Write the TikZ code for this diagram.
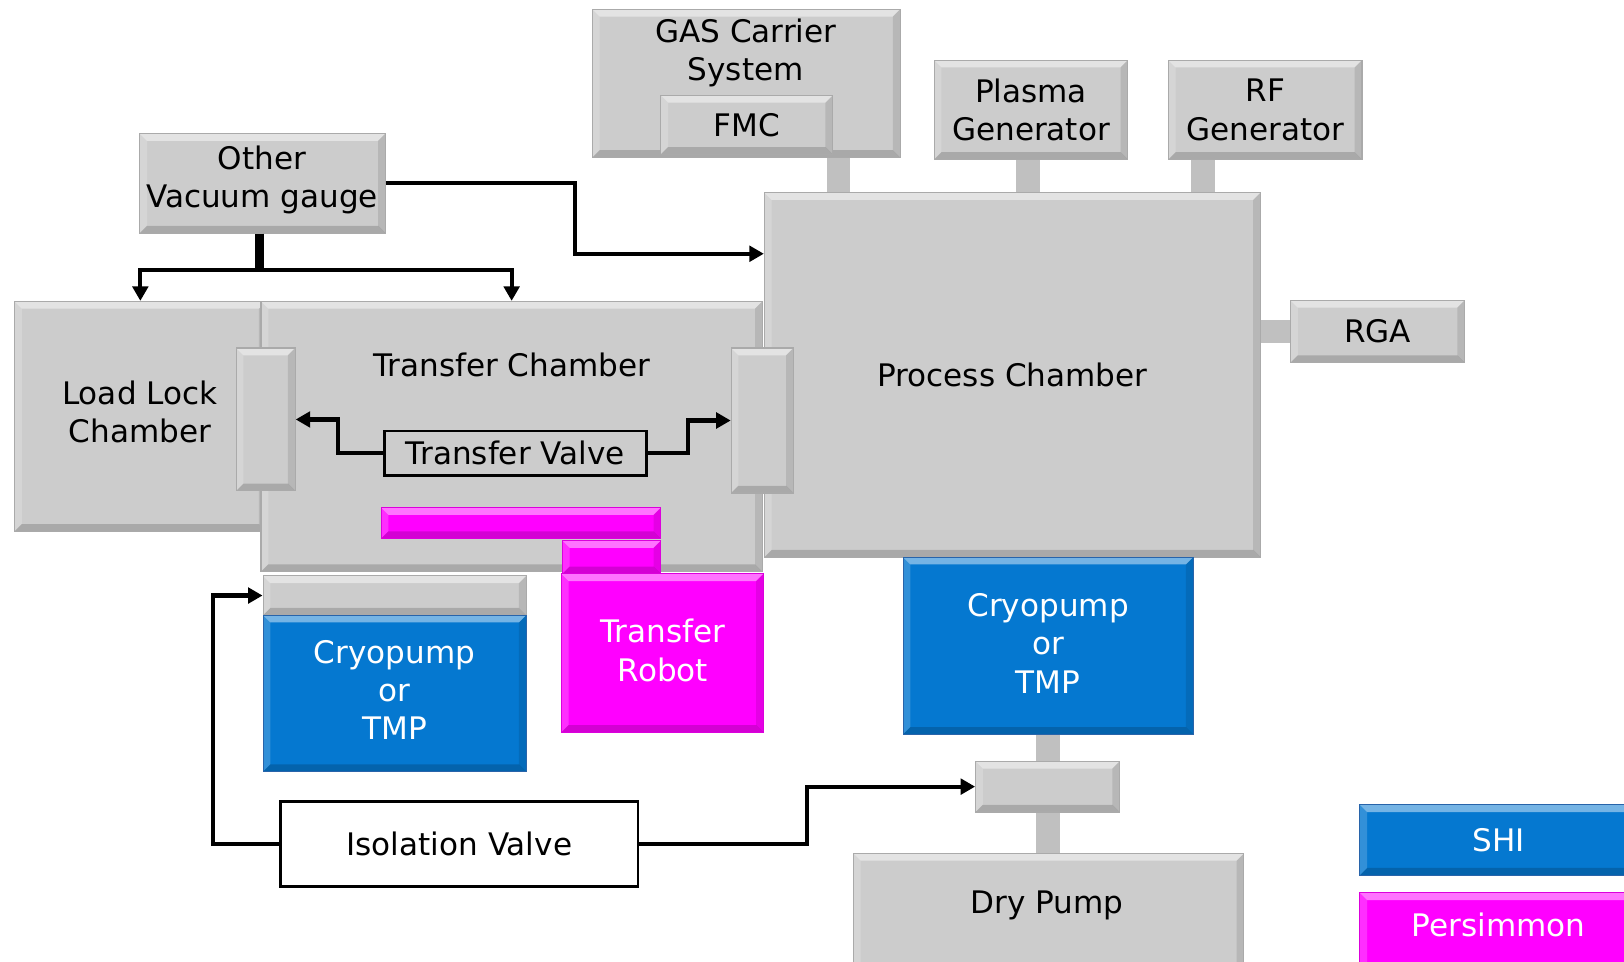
\documentclass[tikz,border=0pt]{standalone}
\usepackage{fontspec}
\setmainfont{DejaVu Sans}
\usetikzlibrary{arrows.meta}
\definecolor{boxgray}{RGB}{204,204,204}
\definecolor{stubgray}{RGB}{192,192,192}
\definecolor{edgegray}{RGB}{170,170,170}
\definecolor{shiblue}{RGB}{5,120,208}
\definecolor{blueedge}{RGB}{40,100,170}
\definecolor{persim}{RGB}{255,0,255}
\definecolor{persimedge}{RGB}{220,0,220}
\tikzset{
  bev/.style={path picture={
    \path (path picture bounding box.south west) coordinate (bvsw)
          (path picture bounding box.north east) coordinate (bvne);
    \fill[white,opacity=.45] (bvsw|-bvne) -- (bvne) -- ([shift={(-7pt,-7pt)}]bvne) -- ([shift={(7pt,-7pt)}]bvsw|-bvne) -- cycle;
    \fill[white,opacity=.18] (bvsw|-bvne) -- ([shift={(7pt,-7pt)}]bvsw|-bvne) -- ([shift={(7pt,7pt)}]bvsw) -- (bvsw) -- cycle;
    \fill[black,opacity=.17] (bvsw) -- (bvne|-bvsw) -- ([shift={(-7pt,7pt)}]bvne|-bvsw) -- ([shift={(7pt,7pt)}]bvsw) -- cycle;
    \fill[black,opacity=.1] (bvne) -- (bvne|-bvsw) -- ([shift={(-7pt,7pt)}]bvne|-bvsw) -- ([shift={(-7pt,-7pt)}]bvne) -- cycle;
  }},
  gbox/.style={draw=edgegray, line width=1pt, fill=boxgray, bev, inner sep=0pt, align=center},
  bbox/.style={draw=blueedge, line width=1pt, fill=shiblue, bev, text=white, inner sep=0pt, align=center},
  mbox/.style={draw=persimedge, line width=1pt, fill=persim, bev, text=white, inner sep=0pt, align=center},
  wbox/.style={draw=black, line width=2.5pt, inner sep=0pt, align=center},
  txt/.style={inner sep=0pt, align=center},
  stubc/.style={draw=stubgray, line width=23pt},
  arr/.style={line width=4pt, -{Triangle[length=14pt,width=15pt]}},
}
\begin{document}
\begin{tikzpicture}[x=1pt,y=-1pt, font=\fontsize{30}{37}\selectfont]
\path[use as bounding box] (0,0) rectangle (1568,928);
\clip (0,0) rectangle (1568,928);

% boxes
\node[gbox, minimum width=297pt, minimum height=143pt] (gas) at (720.5,80.5) {};
\node[txt] (gastxt) at (720,51) {GAS Carrier\\System};
\node[gbox, minimum width=166pt, minimum height=57pt] (fmc) at (721,120.5) {FMC};
\node[gbox, minimum width=187pt, minimum height=96pt] (plasma) at (995.5,106) {Plasma\\Generator};
\node[gbox, minimum width=187pt, minimum height=96pt] (rf) at (1221.5,106) {RF\\Generator};

% stubs (drawn behind following boxes)
\coordinate (pcn) at (977.5,186);
\draw[stubc] ([xshift=89pt]gas.south) -- ([xshift=89pt]gas.south |- pcn);
\draw[stubc] ([xshift=-3pt]plasma.south) -- ([xshift=-3pt]plasma.south |- pcn);
\draw[stubc] ([xshift=-60pt]rf.south) -- ([xshift=-60pt]rf.south |- pcn);

\node[gbox, minimum width=479pt, minimum height=352pt] (pc) at (977.5,362) {Process Chamber};

\node[gbox, minimum width=168pt, minimum height=60pt] (rga) at (1330,320) {RGA};
\draw[stubc] (rga.west) -- (rga.west -| pc.east);

\node[gbox, minimum width=237pt, minimum height=96pt] (ovg) at (253.5,177) {};
\node[txt] (ovgtxt) at (253,173.5) {Other\\Vacuum gauge};

\node[gbox, minimum width=243pt, minimum height=222pt] (ll) at (135.5,402) {};
\node[txt] (lltxt) at (135,398) {Load Lock\\Chamber};
\node[gbox, minimum width=484pt, minimum height=261pt] (tc) at (494,421.5) {};
\node[txt] (tctxt) at (494,352) {Transfer Chamber};
\node[gbox, minimum width=57pt, minimum height=138pt] (lgv) at (256.5,405) {};
\node[gbox, minimum width=60pt, minimum height=140pt] (rgv) at (736,406) {};
\node[wbox, minimum width=253pt, minimum height=43pt] (tv) at (497.5,437.5) {Transfer Valve};

\node[mbox, minimum width=270pt, minimum height=30pt] (arm) at (503,505) {};
\node[mbox, minimum width=95pt, minimum height=32pt] (shaft) at (590.5,538) {};
\node[mbox, minimum width=195pt, minimum height=153pt] (robot) at (639.5,630.5) {};
\node[txt, text=white] (robottxt) at (640,628) {Transfer\\Robot};

\node[gbox, minimum width=254pt, minimum height=38pt] (cbar) at (381,575) {};
\node[bbox, minimum width=254pt, minimum height=151pt] (cryol) at (381,669.5) {};
\node[txt, text=white] (cryoltxt) at (381,666) {Cryopump\\or\\TMP};

\node[bbox, minimum width=280pt, minimum height=171pt] (cryor) at (1012,623.5) {};
\node[txt, text=white] (cryortxt) at (1012,621) {Cryopump\\or\\TMP};

\coordinate (dpn) at (1011.5,824);
\draw[stubc] (cryor.south) -- (cryor.south |- dpn);
\node[gbox, minimum width=139pt, minimum height=49pt] (valve) at (1011.5,759.5) {};
\node[gbox, minimum width=377pt, minimum height=136pt] (dp) at (1012.5,892) {};
\node[txt] (dptxt) at (1011,874) {Dry Pump};

\node[wbox, fill=white, minimum width=345pt, minimum height=82pt] (iso) at (443.5,815) {Isolation Valve};

\node[bbox, minimum width=268pt, minimum height=68pt] (shi) at (1447,811) {SHI};
\node[mbox, minimum width=268pt, minimum height=98pt] (pers) at (1447,911) {};
\node[txt, text=white] (perstxt) at (1447,893) {Persimmon};

% connectors
\draw[arr] (ovg.east) -- ++(183,0) |- ([yshift=117pt]pc.west);
\draw[line width=8pt] ([xshift=-3pt]ovg.south) -- ++(0,34) coordinate (split);
\draw[arr] ([yshift=-1pt]split) -| (ll.north);
\draw[arr] ([yshift=-1pt]split) -| (tc.north);
\draw[arr] (tv.west) -- ++(-43,0) |- (lgv.east);
\draw[arr] (tv.east) -- ++(39,0) |- (rgv.west);
\draw[arr] (iso.west) -- ++(-64,0) |- (cbar.west);
\draw[arr] (iso.east) -- ++(162,0) |- (valve.west);
\end{tikzpicture}
\end{document}
